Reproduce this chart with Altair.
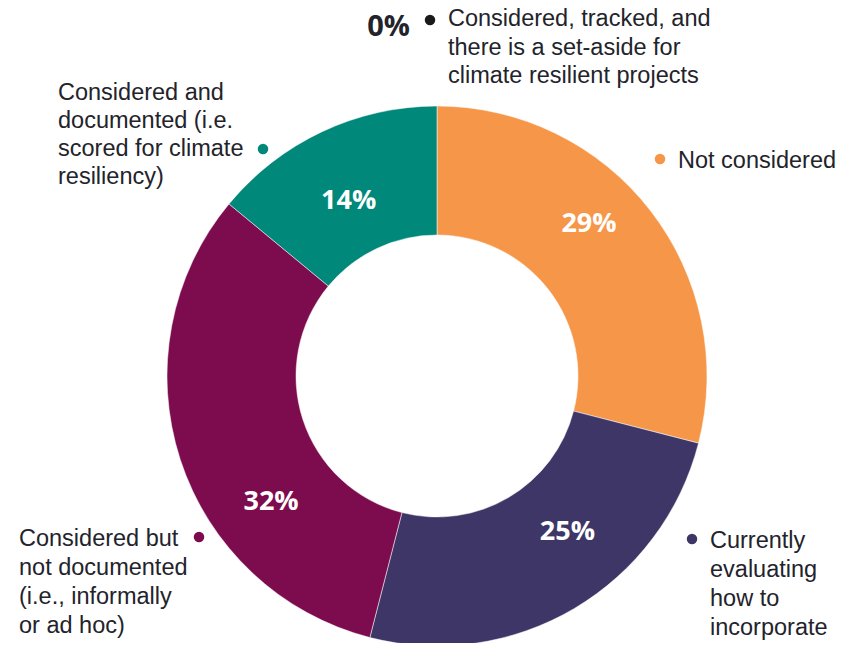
import altair as alt
import pandas as pd

categories = ["Not considered", "Currently evaluating how to incorporate",
              "Considered but not documented (i.e., informally or ad hoc)",
              "Considered and documented (i.e. scored for climate resiliency)"]
values = [29, 25, 32, 14]
pct_labels = ["29%", "25%", "32%", "14%"]
colors = ["#F69648", "#3F3668", "#7D0C4E", "#00897A"]

zero_label = "0%"
zero_category = ["Considered, tracked, and", "there is a set-aside for", "climate resilient projects"]
zero_color = "#1a1a1a"

df = pd.DataFrame({"category": categories, "value": values, "pct": pct_labels,
                   "idx": list(range(len(categories)))})

CX, CY = 429, 368
TEXT_COLOR = "#23232b"

color_scale = alt.Scale(domain=categories, range=colors)
theta_scale = alt.Scale(domain=[0, 100])

arcs = alt.Chart(df).mark_arc(outerRadius=270, innerRadius=141, stroke="white", strokeWidth=0.5).encode(
    theta=alt.Theta("value:Q", stack=True, scale=theta_scale),
    order=alt.Order("idx:Q"),
    color=alt.Color("category:N", scale=color_scale, legend=None),
    x=alt.value(CX), y=alt.value(CY),
)

layers = [arcs]

lab_base = alt.Chart(df).transform_window(
    cum="sum(value)", sort=[alt.SortField("idx")]
).transform_calculate(mid="datum.cum - datum.value / 2")

# label nudges (pixels) relative to the mid-angle position
nudges = {"29%": (-10, -26), "25%": (26, -20), "32%": (29, 63), "14%": (-1, 10)}
for lab in pct_labels:
    ddx, ddy = nudges[lab]
    layers.append(
        lab_base.transform_filter(alt.datum.pct == lab).mark_text(
            radius=205, font="Open Sans", fontWeight="bold", fontSize=27,
            color="white", align="center", baseline="middle", dx=ddx, dy=ddy).encode(
            theta=alt.Theta("mid:Q", stack=False, scale=theta_scale),
            text="pct:N", x=alt.value(CX), y=alt.value(CY),
        )
    )

# annotation layout: (lines, text x, first baseline y, line height, dot x, dot y, dot color)
annotations = [
    (zero_category, 440, 18, 28.5, 422, 12, zero_color),
    (["Not considered"], 670, 160, 28, 652, 151, colors[0]),
    (["Currently", "evaluating", "how to", "incorporate"], 702, 540, 29, 684, 531, colors[1]),
    (["Considered but", "not documented", "(i.e., informally", "or ad hoc)"], 11, 538, 29, 191, 529, colors[2]),
    (["Considered and", "documented (i.e.", "scored for climate", "resiliency)"], 50, 92, 28, 255, 141, colors[3]),
]

one = pd.DataFrame({"k": [0]})
for lines, tx, ty, lh, dx, dy, dc in annotations:
    layers.append(
        alt.Chart(one).mark_text(align="left", baseline="alphabetic", font="Liberation Sans",
                                 fontSize=23.5, lineHeight=lh, color=TEXT_COLOR,
                                 text="\n".join(lines), lineBreak="\n").encode(
            x=alt.value(tx), y=alt.value(ty))
    )
    layers.append(
        alt.Chart(one).mark_circle(size=110, opacity=1, color=dc).encode(
            x=alt.value(dx), y=alt.value(dy))
    )

layers.append(
    alt.Chart(one).mark_text(align="right", baseline="alphabetic", font="Open Sans",
                             fontWeight="bold", fontSize=29, color=TEXT_COLOR,
                             text=zero_label).encode(x=alt.value(402), y=alt.value(28))
)

chart = alt.layer(*layers).properties(
    width=839, height=635, padding=0, autosize="none"
).configure_view(strokeWidth=0)

chart.save("out.html", embed_options={"renderer": "svg", "actions": False})
